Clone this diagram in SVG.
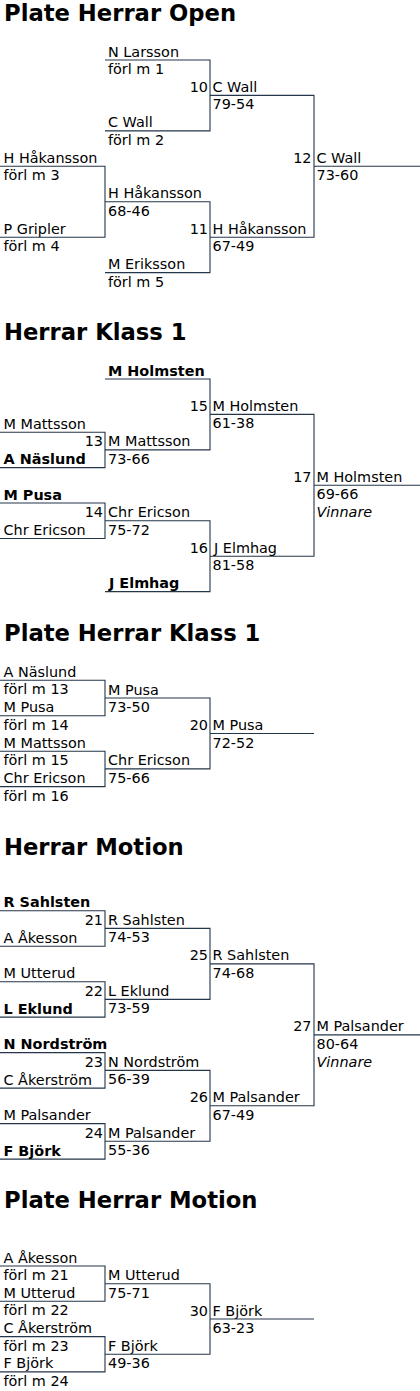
<svg xmlns="http://www.w3.org/2000/svg" width="420" height="1391" viewBox="0 0 420 1391">
<style>
text{font-family:"DejaVu Sans","Verdana",sans-serif;font-size:14.4px;fill:#000}
.h{font-size:22.7px;font-weight:bold;fill:#000}
.b{font-weight:bold}
.i{font-style:italic}
.r{text-anchor:end}
#connectors path{fill:none;stroke:#24364a;stroke-width:1.1}
</style>
<rect width="420" height="1391" fill="#fff"/>
<g id="connectors">
<path d="M105 60H210V130.9H105"/>
<path d="M210 95.4H314V237.2H210"/>
<path d="M0 166.3H105V237.2H0"/>
<path d="M105 201.8H210V272.6H105"/>
<path d="M314 166.3H420"/>
<path d="M105 379H210V449.9H105"/>
<path d="M0 432.2H105V467.6H0"/>
<path d="M210 414.4H314V556.2H210"/>
<path d="M314 485.3H420"/>
<path d="M0 503H105V538.5H0"/>
<path d="M105 520.8H210V591.6H105"/>
<path d="M0 680.3H105V715.7H0"/>
<path d="M105 698H210V768.9H105"/>
<path d="M210 733.5H314"/>
<path d="M0 751.2H105V786.6H0"/>
<path d="M0 910.7H105V946.2H0"/>
<path d="M105 928.4H210V999.4H105"/>
<path d="M0 981.7H105V1017.1H0"/>
<path d="M210 963.9H314V1105.8H210"/>
<path d="M314 1034.9H420"/>
<path d="M0 1052.6H105V1088.1H0"/>
<path d="M105 1070.4H210V1141.3H105"/>
<path d="M0 1123.6H105V1159.1H0"/>
<path d="M0 1266H105V1301.3H0"/>
<path d="M105 1283.7H210V1354.3H105"/>
<path d="M210 1319H314"/>
<path d="M0 1336.6H105V1371.9H0"/>
</g>
<g id="sec1">
<text class="h" x="4" y="21.3">Plate Herrar Open</text>
<g id="s1-n1"><text x="108" y="56.5">N Larsson</text><text x="108" y="74">förl m 1</text></g>
<g id="s1-n2"><text x="108" y="127.4">C Wall</text><text x="108" y="144.9">förl m 2</text></g>
<g id="s1-m10"><text class="r" x="208" y="91.9">10</text><text x="212.5" y="91.9">C Wall</text><text x="212.5" y="109.4">79-54</text></g>
<g id="s1-n3"><text x="3.5" y="162.8">H Håkansson</text><text x="3.5" y="180.3">förl m 3</text></g>
<g id="s1-m12"><text class="r" x="311.5" y="162.8">12</text><text x="316.5" y="162.8">C Wall</text><text x="316.5" y="180.3">73-60</text></g>
<g id="s1-n4"><text x="108" y="198.3">H Håkansson</text><text x="108" y="215.8">68-46</text></g>
<g id="s1-n5"><text x="3.5" y="233.7">P Gripler</text><text x="3.5" y="251.2">förl m 4</text></g>
<g id="s1-m11"><text class="r" x="208" y="233.7">11</text><text x="212.5" y="233.7">H Håkansson</text><text x="212.5" y="251.2">67-49</text></g>
<g id="s1-n6"><text x="108" y="269.1">M Eriksson</text><text x="108" y="286.6">förl m 5</text></g>
</g>
<g id="sec2">
<text class="h" x="4" y="340">Herrar Klass 1</text>
<g id="s2-n1"><text class="b" x="108" y="375.5">M Holmsten</text></g>
<g id="s2-m15"><text class="r" x="208" y="410.9">15</text><text x="212.5" y="410.9">M Holmsten</text><text x="212.5" y="428.4">61-38</text></g>
<g id="s2-n2"><text x="3.5" y="428.7">M Mattsson</text></g>
<g id="s2-m13"><text class="r" x="103" y="446.4">13</text><text x="108" y="446.4">M Mattsson</text><text x="108" y="463.9">73-66</text></g>
<g id="s2-n3"><text class="b" x="3.5" y="464.1">A Näslund</text></g>
<g id="s2-m17"><text class="r" x="311.5" y="481.8">17</text><text x="316.5" y="481.8">M Holmsten</text><text x="316.5" y="499.3">69-66</text><text class="i" x="316.5" y="517">Vinnare</text></g>
<g id="s2-n4"><text class="b" x="3.5" y="499.5">M Pusa</text></g>
<g id="s2-m14"><text class="r" x="103" y="517.3">14</text><text x="108" y="517.3">Chr Ericson</text><text x="108" y="534.8">75-72</text></g>
<g id="s2-n5"><text x="3.5" y="535">Chr Ericson</text></g>
<g id="s2-m16"><text class="r" x="208" y="552.7">16</text><text x="214" y="552.7">J Elmhag</text><text x="212.5" y="570.2">81-58</text></g>
<g id="s2-n6"><text class="b" x="109" y="588.1">J Elmhag</text></g>
</g>
<g id="sec3">
<text class="h" x="4" y="640.7">Plate Herrar Klass 1</text>
<g id="s3-n1"><text x="3.5" y="676.8">A Näslund</text><text x="3.5" y="694.3">förl m 13</text></g>
<g id="s3-n2"><text x="3.5" y="712.2">M Pusa</text><text x="3.5" y="729.7">förl m 14</text></g>
<g id="s3-n3"><text x="3.5" y="747.7">M Mattsson</text><text x="3.5" y="765.2">förl m 15</text></g>
<g id="s3-n4"><text x="3.5" y="783.1">Chr Ericson</text><text x="3.5" y="800.6">förl m 16</text></g>
<g id="s3-n5"><text x="108" y="694.5">M Pusa</text><text x="108" y="712">73-50</text></g>
<g id="s3-n6"><text x="108" y="765.4">Chr Ericson</text><text x="108" y="782.9">75-66</text></g>
<g id="s3-m20"><text class="r" x="208" y="730">20</text><text x="212.5" y="730">M Pusa</text><text x="212.5" y="747.5">72-52</text></g>
</g>
<g id="sec4">
<text class="h" x="4" y="854.7">Herrar Motion</text>
<g id="s4-n1"><text class="b" x="3.5" y="907.2">R Sahlsten</text></g>
<g id="s4-m21"><text class="r" x="103" y="924.9">21</text><text x="108" y="924.9">R Sahlsten</text><text x="108" y="942.4">74-53</text></g>
<g id="s4-n2"><text x="3.5" y="942.7">A Åkesson</text></g>
<g id="s4-m25"><text class="r" x="208" y="960.4">25</text><text x="212.5" y="960.4">R Sahlsten</text><text x="212.5" y="977.9">74-68</text></g>
<g id="s4-n3"><text x="3.5" y="978.2">M Utterud</text></g>
<g id="s4-m22"><text class="r" x="103" y="995.9">22</text><text x="108" y="995.9">L Eklund</text><text x="108" y="1013.4">73-59</text></g>
<g id="s4-n4"><text class="b" x="3.5" y="1013.6">L Eklund</text></g>
<g id="s4-m27"><text class="r" x="311.5" y="1031.4">27</text><text x="316.5" y="1031.4">M Palsander</text><text x="316.5" y="1048.9">80-64</text><text class="i" x="316.5" y="1066.6">Vinnare</text></g>
<g id="s4-n5"><text class="b" x="3.5" y="1049.1">N Nordström</text></g>
<g id="s4-m23"><text class="r" x="103" y="1066.9">23</text><text x="108" y="1066.9">N Nordström</text><text x="108" y="1084.4">56-39</text></g>
<g id="s4-n6"><text x="3.5" y="1084.6">C Åkerström</text></g>
<g id="s4-m26"><text class="r" x="208" y="1102.3">26</text><text x="212.5" y="1102.3">M Palsander</text><text x="212.5" y="1119.8">67-49</text></g>
<g id="s4-n7"><text x="3.5" y="1120.1">M Palsander</text></g>
<g id="s4-m24"><text class="r" x="103" y="1137.8">24</text><text x="108" y="1137.8">M Palsander</text><text x="108" y="1155.3">55-36</text></g>
<g id="s4-n8"><text class="b" x="3.5" y="1155.6">F Björk</text></g>
</g>
<g id="sec5">
<text class="h" x="4" y="1208">Plate Herrar Motion</text>
<g id="s5-n1"><text x="3.5" y="1262.5">A Åkesson</text><text x="3.5" y="1280">förl m 21</text></g>
<g id="s5-n2"><text x="3.5" y="1297.8">M Utterud</text><text x="3.5" y="1315.3">förl m 22</text></g>
<g id="s5-n3"><text x="3.5" y="1333.1">C Åkerström</text><text x="3.5" y="1350.6">förl m 23</text></g>
<g id="s5-n4"><text x="3.5" y="1368.4">F Björk</text><text x="3.5" y="1385.9">förl m 24</text></g>
<g id="s5-n5"><text x="108" y="1280.2">M Utterud</text><text x="108" y="1297.7">75-71</text></g>
<g id="s5-n6"><text x="108" y="1350.8">F Björk</text><text x="108" y="1368.3">49-36</text></g>
<g id="s5-m30"><text class="r" x="208" y="1315.5">30</text><text x="212.5" y="1315.5">F Björk</text><text x="212.5" y="1333">63-23</text></g>
</g>
</svg>
